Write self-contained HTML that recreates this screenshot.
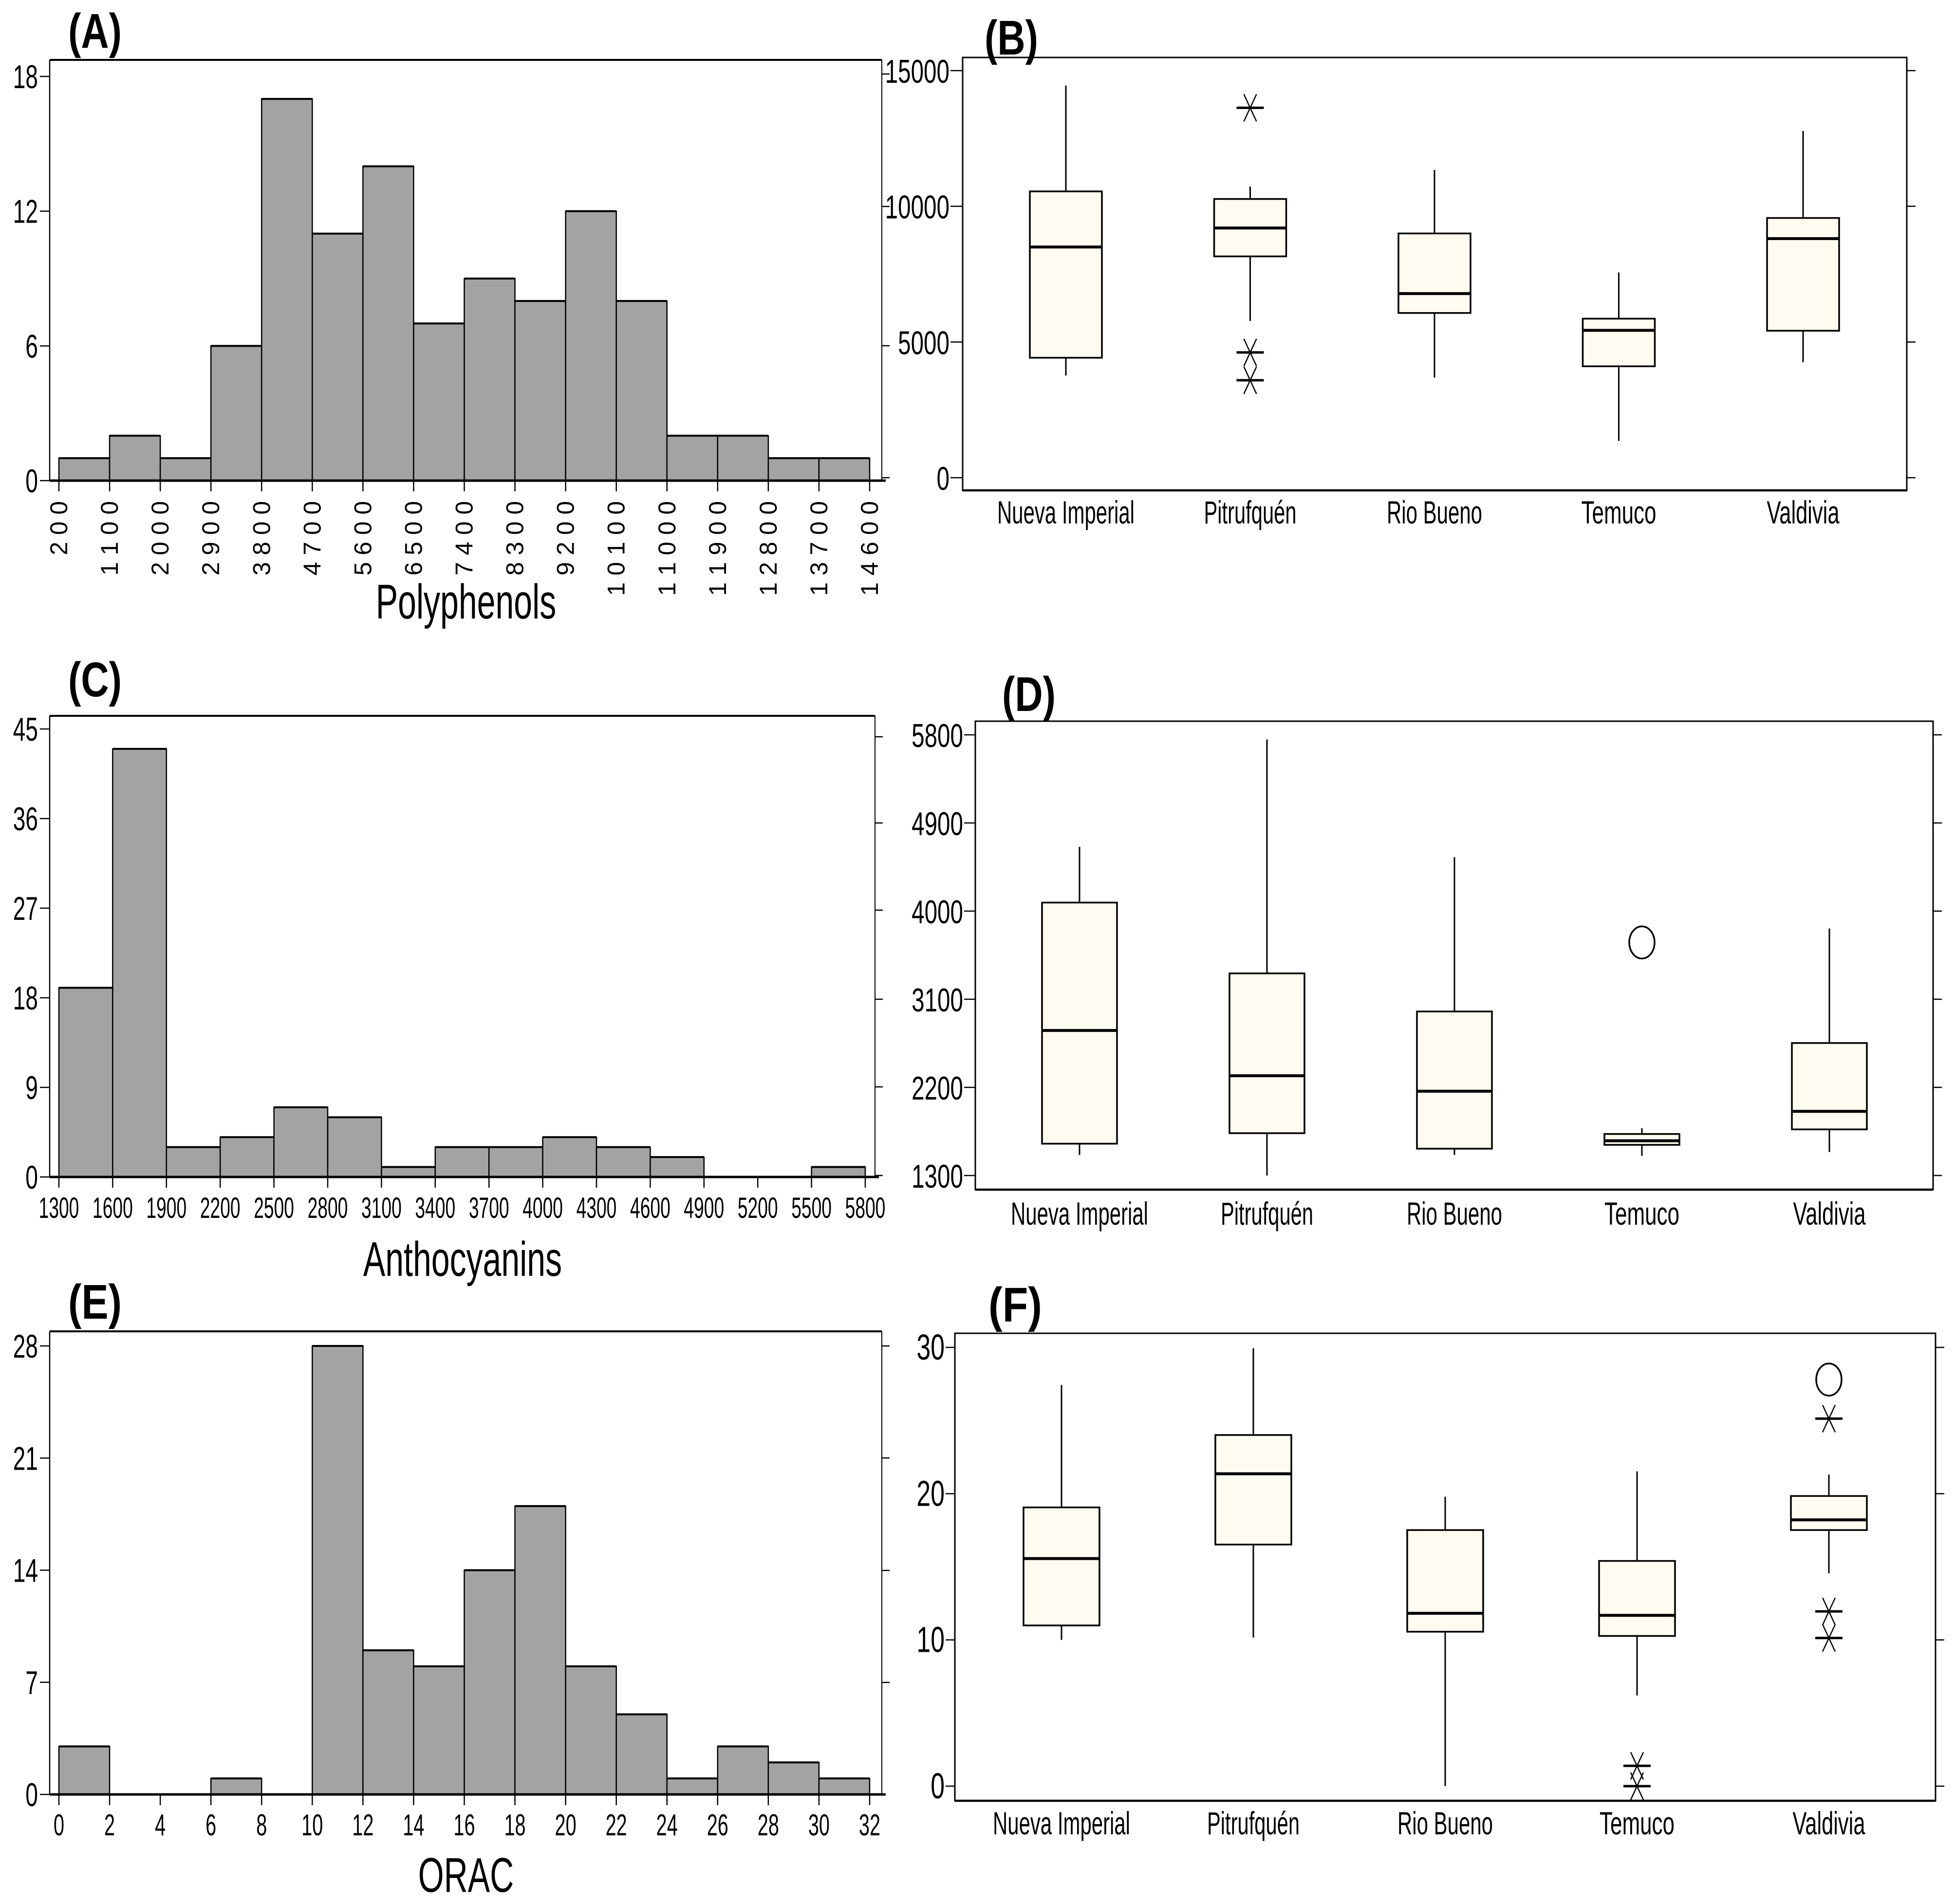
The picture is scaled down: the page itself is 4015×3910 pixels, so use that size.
<!DOCTYPE html>
<html><head><meta charset="utf-8"><style>
html,body{margin:0;padding:0;background:#fff}
svg{display:block}
text{font-family:"Liberation Sans",sans-serif;fill:#000}
</style></head><body>
<svg id="fig" width="4015" height="3910" viewBox="0 0 4015 3910" xmlns="http://www.w3.org/2000/svg"></svg>
<script>
// ---- Histogram data ----
const polyEdges = [200,1100,2000,2900,3800,4700,5600,6500,7400,8300,9200,10100,11000,11900,12800,13700,14600];
const polyCounts = [1,2,1,6,17,11,14,7,9,8,12,8,2,2,1,1];
const polyYTicks = [0,6,12,18];
const anthEdges = [1300,1600,1900,2200,2500,2800,3100,3400,3700,4000,4300,4600,4900,5200,5500,5800];
const anthCounts = [19,43,3,4,7,6,1,3,3,4,3,2,0,0,1];
const anthYTicks = [0,9,18,27,36,45];
const oracEdges = [0,2,4,6,8,10,12,14,16,18,20,22,24,26,28,30,32];
const oracCounts = [3,0,0,1,0,28,9,8,14,18,8,5,1,3,2,1];
const oracYTicks = [0,7,14,21,28];
// ---- Boxplot data ----
const sites = ["Nueva Imperial","Pitrufquén","Rio Bueno","Temuco","Valdivia"];
const polyLow = [3765,5775,3690,1355,4255];
const polyQ1 = [4420,8155,6070,4105,5415];
const polyMed = [8500,9200,6785,5430,8810];
const polyQ3 = [10550,10270,9000,5860,9570];
const polyHigh = [14450,10730,11340,7560,12780];
const polyStars = [[],[13630,4615,3590],[],[],[]];
const polyCircles = [[],[],[],[],[]];
const polyBoxTicks = [0,5000,10000,15000];
const anthLow = [1510,1300,1510,1501,1540];
const anthQ1 = [1625,1732,1574,1613,1771];
const anthMed = [2781,2319,2161,1655,1955];
const anthQ3 = [4087,3364,2975,1724,2653];
const anthHigh = [4657,5753,4550,1784,3822];
const anthStars = [[],[],[],[],[]];
const anthCircles = [[],[],[],[3680],[]];
const anthBoxTicks = [1300,2200,3100,4000,4900,5800];
const oracLow = [10.0,10.16,0,6.2,14.55];
const oracQ1 = [10.99,16.52,10.56,10.27,17.51];
const oracMed = [15.56,21.36,11.82,11.68,18.21];
const oracQ3 = [19.06,24.01,17.51,15.40,19.84];
const oracHigh = [27.43,29.95,19.79,21.52,21.31];
const oracStars = [[],[],[],[1.39,0],[25.13,11.95,10.13]];
const oracCircles = [[],[],[],[],[27.8]];
const oracBoxTicks = [0,10,20,30];

const NS="http://www.w3.org/2000/svg";
const svg=document.getElementById('fig');
function mk(tag,attrs,name,parent){
  const el=document.createElementNS(NS,tag);
  for(const k in attrs) el.setAttribute(k,attrs[k]);
  
  
  (parent||svg).appendChild(el);
  return el;
}
function txt(x,y,s,fs,anchor,name,opts){
  opts=opts||{};
  const g=mk('g',{transform:`translate(${x},${y})`+(opts.rot?` rotate(${opts.rot})`:'')+` scale(${opts.sx||1},1)`},name+'-group');
  const t=mk('text',{x:0,y:0,'font-size':fs,'text-anchor':anchor||'middle','font-weight':opts.bold?'bold':'normal'},name,g);
  if(opts.ls) t.setAttribute('letter-spacing',opts.ls);
  t.textContent=s;
  return t;
}
function line(x1,y1,x2,y2,w,name){return mk('line',{x1,y1,x2,y2,stroke:'#000','stroke-width':w},name);}

function hist(cfg){
  const {edges,counts,yTicks,xL,xR,y0,yTop,vTop,fL,fR,fT,id,title,rightTicks}=cfg;
  const X=v=>xL+(v-edges[0])/(edges[edges.length-1]-edges[0])*(xR-xL);
  const Y=v=>y0-(v/vTop)*(y0-yTop);
  line(fL,fT,fR,fT,4,id+'-frame-top');
  line(fL,fT,fL,y0,2.5,id+'-y-axis-left');
  line(fR,fT,fR,y0,2,id+'-y-axis-right');
  counts.forEach((c,i)=>{
    if(c<=0) return;
    const x1=X(edges[i]),x2=X(edges[i+1]);
    mk('rect',{x:x1,y:Y(c),width:x2-x1,height:y0-Y(c),fill:'#a3a3a3',stroke:'#000','stroke-width':2.5},id+'-bar');
    line(x1,Y(c),x2,Y(c),4,id+'-bar-top');
  });
  line(fL,y0,fR+8,y0,5,id+'-x-axis');
  yTicks.forEach(v=>{
    line(fL-20,Y(v),fL,Y(v),2.5,id+'-y-tick');
    txt(fL-24,Y(v)+24,String(v),68,'end',id+'-y-tick-label',{sx:0.68});
  });
  rightTicks.forEach(y=>line(fR,y,fR+16,y,2.5,id+'-right-tick'));
  edges.forEach(v=>{
    line(X(v),y0,X(v),y0+22,2.5,id+'-x-tick');
    if(cfg.rotLabels){
      txt(X(v)+17,y0+42,String(v).split('').join(' '),50,'end',id+'-x-tick-label',{rot:-90,sx:1});
    } else {
      txt(X(v),y0+cfg.lblDy,String(v),cfg.lblFs,'middle',id+'-x-tick-label',{sx:cfg.lblSx});
    }
  });
  txt(cfg.titleX,cfg.titleY,title,100,'middle',id+'-x-axis-title',{sx:0.68});
}

function box(cfg){
  const {id,low,q1,med,q3,high,stars,circles,ticks,vMin,vMax,yMin,yMax,fL,fR,fT,fB,c0,dc,hw,lblY,tickLblX,tickFs}=cfg;
  const Y=v=>yMin-(v-vMin)/(vMax-vMin)*(yMin-yMax);
  mk('rect',{x:fL,y:fT,width:fR-fL,height:fB-fT,fill:'none',stroke:'#000','stroke-width':3},id+'-frame');
  line(fL,fB,fR,fB,4.5,id+'-x-axis');
  ticks.forEach(v=>{
    line(fR,Y(v),fR+18,Y(v),2.5,id+'-right-tick');
    line(tickLblX+2,Y(v),fL,Y(v),2.5,id+'-left-tick');
    txt(tickLblX,Y(v)+25,String(v),tickFs,'end',id+'-y-tick-label',{sx:0.7});
  });
  const lens=cfg.lblLens;
  sites.forEach((s,i)=>{
    const cx=c0+dc*i;
    line(cx,Y(high[i]),cx,Y(q3[i]),3,id+'-whisker-high');
    line(cx,Y(q1[i]),cx,Y(low[i]),3,id+'-whisker-low');
    mk('rect',{x:cx-hw,y:Y(q3[i]),width:2*hw,height:Y(q1[i])-Y(q3[i]),fill:'#fffbf0',stroke:'#000','stroke-width':3.5},id+'-box');
    line(cx-hw,Y(med[i]),cx+hw,Y(med[i]),6,id+'-median');
    stars[i].forEach(v=>{
      const y=Y(v);
      line(cx-28,y,cx+28,y,5,id+'-outlier-star');
      line(cx-13,y-28,cx+13,y+28,2.5,id+'-outlier-star');
      line(cx+13,y-28,cx-13,y+28,2.5,id+'-outlier-star');
    });
    circles[i].forEach(v=>{
      mk('ellipse',{cx,cy:Y(v),rx:26,ry:33,fill:'none',stroke:'#000','stroke-width':3.5},id+'-outlier-circle');
    });
    const t=txt(cx,lblY+24,s,66,'middle',id+'-category-label');
    t.setAttribute('textLength',lens[i]);
    t.setAttribute('lengthAdjust','spacingAndGlyphs');
  });
}
const lblLens=[282,190,196,154,149];
function panelLetter(x,y,s,name){
  const t=txt(x,y,s,100,'start',name,{bold:true});
  t.setAttribute('textLength',110);
  t.setAttribute('lengthAdjust','spacingAndGlyphs');
}

hist({edges:polyEdges,counts:polyCounts,yTicks:polyYTicks,xL:121,xR:1786,y0:987,yTop:157,vTop:18,fL:102,fR:1811,fT:123,id:'hist-polyphenols',title:'Polyphenols',rightTicks:[152,424,710,981],rotLabels:true,titleX:957,titleY:1270});
hist({edges:anthEdges,counts:anthCounts,yTicks:anthYTicks,xL:121,xR:1777,y0:2417,yTop:1497,vTop:45,fL:102,fR:1797,fT:1470,id:'hist-anthocyanins',title:'Anthocyanins',rightTicks:[1513,1690,1869,2052,2232,2414],rotLabels:false,lblDy:84,lblFs:60,lblSx:0.62,titleX:950,titleY:2620});
hist({edges:oracEdges,counts:oracCounts,yTicks:oracYTicks,xL:121,xR:1786,y0:3685,yTop:2764,vTop:28,fL:102,fR:1811,fT:2734,id:'hist-orac',title:'ORAC',rightTicks:[2764,2994,3225,3455],rotLabels:false,lblDy:84,lblFs:62,lblSx:0.64,titleX:957,titleY:3885});

box({id:'box-polyphenols',low:polyLow,q1:polyQ1,med:polyMed,q3:polyQ3,high:polyHigh,stars:polyStars,circles:polyCircles,ticks:polyBoxTicks,vMin:0,vMax:15000,yMin:981,yMax:145,fL:1977,fR:3916,fT:118,fB:1007,c0:2189,dc:378.5,hw:74,lblY:1051,tickLblX:1950,tickFs:68,lblLens});
box({id:'box-anthocyanins',low:anthLow,q1:anthQ1,med:anthMed,q3:anthQ3,high:anthHigh,stars:anthStars,circles:anthCircles,ticks:anthBoxTicks,vMin:1300,vMax:5800,yMin:2414,yMax:1509,fL:2003,fR:3970,fT:1481,fB:2443,c0:2217,dc:385,hw:77,lblY:2491,tickLblX:1978,tickFs:68,lblLens});
box({id:'box-orac',low:oracLow,q1:oracQ1,med:oracMed,q3:oracQ3,high:oracHigh,stars:oracStars,circles:oracCircles,ticks:oracBoxTicks,vMin:0,vMax:30,yMin:3668,yMax:2767,fL:1961,fR:3975,fT:2738,fB:3698,c0:2180,dc:394,hw:78,lblY:3743,tickLblX:1940,tickFs:74,lblLens});

panelLetter(140,98,'(A)','panel-label-a');
panelLetter(2022,112,'(B)','panel-label-b');
panelLetter(140,1430,'(C)','panel-label-c');
panelLetter(2058,1460,'(D)','panel-label-d');
panelLetter(140,2708,'(E)','panel-label-e');
panelLetter(2030,2714,'(F)','panel-label-f');
</script>
</body></html>
